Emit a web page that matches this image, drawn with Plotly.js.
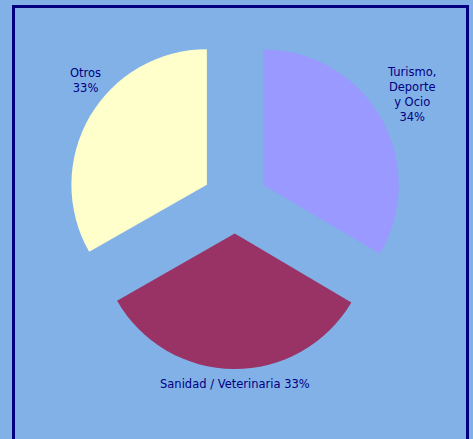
<!DOCTYPE html>
<html><head><meta charset="utf-8">
<script src="https://cdn.plot.ly/plotly-3.0.1.min.js"></script>
<style>
html,body{margin:0;padding:0;background:#82B1E8;overflow:hidden;}
#chart{width:473px;height:439px;position:absolute;left:0;top:0;}
#frame{position:absolute;left:12px;top:5px;width:451px;height:450px;border:3px solid #000080;pointer-events:none;}
</style></head>
<body>
<div id="chart"></div>
<div id="frame"></div>
<script>
const categories = ["Turismo, Deporte y Ocio", "Sanidad / Veterinaria", "Otros"];
const labelText = ["Turismo,<br>Deporte<br>y Ocio<br>34%", "Sanidad / Veterinaria 33%", "Otros<br>33%"];
const values = [33.5, 33.25, 33.25];
const colors = ["#9999FF", "#993366", "#FFFFCC"];

const labelPos = [[1.024, 0.8155], [0.5, -0.0446], [0.0536, 0.86]];
const font = {family: "DejaVu Sans", size: 11.5, color: "#000080"};

Plotly.newPlot("chart", [{
  type: "pie",
  labels: categories,
  values: values,
  textinfo: "none",
  sort: false,
  direction: "clockwise",
  rotation: 0,
  pull: [0.24, 0.24, 0.24],
  marker: {colors: colors, line: {width: 0}},
  hoverinfo: "none",
  showlegend: false
}], {
  width: 473, height: 439,
  margin: {l: 67, r: 70, t: 33, b: 70},
  paper_bgcolor: "#82B1E8",
  plot_bgcolor: "#82B1E8",
  showlegend: false,
  annotations: labelText.map((t, i) => ({
    text: t, xref: "paper", yref: "paper",
    x: labelPos[i][0], y: labelPos[i][1],
    xanchor: "center", yanchor: "middle", align: "center",
    showarrow: false, font: font
  }))
}, {displayModeBar: false, staticPlot: true});
</script>
</body></html>
